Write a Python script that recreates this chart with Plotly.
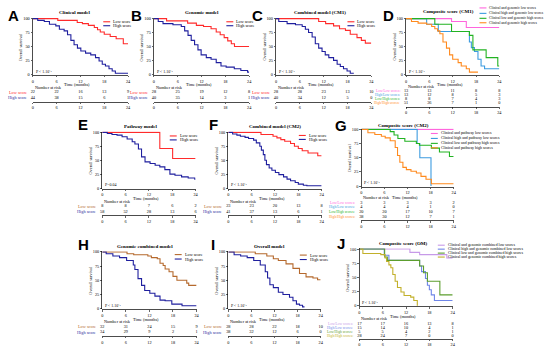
import plotly.graph_objects as go

W, H = 550, 351
SERIF = "Liberation Serif"
SANS = "Liberation Sans"

RED = "#ff2b2b"; NAVY = "#1f1f9e"; BROWN = "#b5692d"
PINK = "#ff66dd"; LBLUE = "#3c9be0"; GREEN = "#22b322"; ORANGE = "#ff8a1e"
LAV = "#c79ae8"; CBLUE = "#6f86e8"; OGREEN = "#5c9e2e"; MUSTARD = "#c2b02a"

time_ticks = [0, 6, 12, 18, 24]
surv_ticks = [0, 25, 50, 75, 100]

# ---------------- data ----------------
A_low_t = [0, 6.3, 11.2, 12.5, 14, 15.5, 16.3, 17, 18, 19.5, 21, 22.8, 24]
A_low_s = [100, 97, 93, 91, 88, 84, 80, 76, 72, 68, 64, 55, 55]
A_high_t = [0, 1.25, 2.9, 4.2, 5.8, 6.7, 7.9, 8.75, 9.6, 10.4, 11.25, 12.1, 13.3, 14.6, 15.8, 16.7, 17.5, 18.3, 19.2, 20, 20.8, 24]
A_high_s = [100, 97, 95, 90, 87, 81, 78, 71, 61, 53, 47, 42, 38, 35, 30, 24, 18, 15, 10, 6, 2, 2]
A_risk_low = [22, 22, 16, 13, 9]
A_risk_high = [44, 38, 15, 6, 1]

B_low_t = [0, 3.2, 8.5, 10.7, 12.5, 14.4, 15.7, 16.7, 17.7, 18.6, 19.5, 20.3, 24]
B_low_s = [100, 96, 92, 88, 86, 82, 76, 71, 66, 60, 55, 50, 50]
B_high_t = [0, 1.1, 2.3, 4.8, 6.9, 7.75, 8.6, 9.4, 10.25, 11.1, 11.9, 13.2, 14.4, 15.7, 16.9, 18.2, 20.25, 21.9, 23.6, 24]
B_high_s = [100, 95, 91, 89, 86, 78, 70, 61, 53, 44, 35, 30, 27, 21, 15, 13, 10, 7, 4, 4]
B_risk_low = [28, 25, 19, 12, 8]
B_risk_high = [40, 35, 14, 3, 1]

C_low_t = [0, 10.75, 12.5, 14.5, 16, 17.5, 18.7, 20.4, 21.5, 22.5, 24]
C_low_s = [100, 95, 91, 87, 82, 79, 72, 66, 61, 56, 56]
C_high_t = [0, 0.7, 2.8, 4.9, 6.6, 7.4, 8.2, 9.1, 9.9, 10.75, 11.6, 12.4, 13.3, 14.5, 15.4, 16.2, 17, 17.9, 18.7, 19.6]
C_high_s = [100, 95, 91, 89, 86, 81, 75, 67, 55, 47, 41, 35, 30, 25, 18, 14, 10, 6, 2, 2]
C_risk_low = [28, 28, 23, 13, 10]
C_risk_high = [40, 34, 12, 5, 0]

D_ll_t = [0, 11.7, 15.5, 24]
D_ll_s = [100, 95, 84, 84]
D_hl_t = [0, 5.3, 8.3, 16.3, 16.8, 17.6, 18.5, 19.3, 20.2, 24]
D_hl_s = [100, 90, 77, 58, 48, 41, 27, 15, 10, 10]
D_lh_t = [0, 7.4, 11.7, 16.3, 17.2, 20.6, 23.6, 24]
D_lh_s = [100, 90, 77, 70, 44, 30, 15, 15]
D_hh_t = [0, 1.4, 3.1, 5.3, 6.6, 7.4, 8.1, 8.7, 9.5, 10.4, 11.2, 12, 13.4, 14.2, 15.5, 16.3, 18.5]
D_hh_s = [100, 95, 92, 90, 86, 82, 78, 73, 58, 47, 35, 27, 21, 15, 10, 4, 4]
D_risk = [[13, 13, 11, 8, 8], [13, 12, 8, 5, 3], [8, 8, 7, 4, 3], [51, 36, 7, 1, 0]]

E_low_t = [0, 14.8, 18.1, 24]
E_low_s = [100, 71, 53, 53]
E_high_t = [0, 1.3, 2.5, 3.8, 5.1, 6.4, 7.7, 8.4, 9.3, 10.1, 11, 12.3, 13.6, 14.8, 16.1, 17.4, 18.7, 20.4, 22.1, 23.8, 24]
E_high_s = [100, 98, 96, 95, 92, 88, 83, 79, 70, 56, 47, 44, 41, 38, 33, 25, 23, 20, 18, 16, 16]
E_risk_low = [8, 8, 7, 6, 2]
E_risk_high = [58, 52, 28, 13, 6]

F_low_t = [0, 8.4, 11.5, 12.5, 13.5, 14.5, 16, 17, 18, 19, 20.5, 23, 24]
F_low_s = [100, 96, 93, 90, 87, 84, 80, 75, 71, 67, 63, 58, 58]
F_high_t = [0, 1.1, 2.2, 3.1, 4.3, 5.2, 6.5, 7.2, 8.1, 8.5, 9, 9.4, 9.8, 10.5, 11.2, 12.1, 13, 14.2, 15.1, 16, 17.2, 18, 19.3, 20.2, 24]
F_high_s = [100, 97, 95, 93, 91, 89, 86, 81, 75, 68, 60, 50, 42, 36, 32, 28, 24, 20, 16, 13, 10, 7, 5, 4, 4]
F_risk_low = [23, 23, 20, 13, 8]
F_risk_high = [41, 37, 13, 6, 1]

G_ll_t = [0, 24]
G_ll_s = [100, 100]
G_hl_t = [0, 14.5, 15.2, 18.1]
G_hl_s = [100, 75, 50, 0]
G_lh_t = [0, 7.5, 8.5, 9.5, 11.3, 14.3, 15.1, 18.2, 20.3, 22.9, 24]
G_lh_s = [100, 96, 90, 84, 79, 75, 72, 67, 60, 52, 52]
G_hh_t = [0, 1.7, 3.5, 5.2, 6.2, 7.5, 8.8, 9.4, 10, 10.8, 11.7, 12.9, 14.3, 15.5, 16.8, 18.2, 24]
G_hh_s = [100, 94, 91, 88, 85, 80, 68, 54, 42, 33, 29, 26, 23, 17, 12, 4, 4]
G_risk = [[3, 3, 3, 3, 2], [4, 4, 4, 1, 0], [20, 20, 17, 10, 7], [38, 30, 12, 7, 1]]

H_low_t = [0, 6.3, 8, 11.6, 12.5, 14, 14.7, 15.5, 16, 17, 18, 19, 21.5, 22, 24]
H_low_s = [100, 97, 95, 93, 90, 88, 80, 76, 70, 65, 57, 50, 45, 41, 41]
H_high_t = [0, 1, 2.7, 4.4, 6.2, 7.9, 8.3, 9.1, 10, 10.8, 12.1, 13.4, 14.7, 16, 17.7, 20.3, 24]
H_high_s = [100, 97, 93, 90, 85, 77, 69, 53, 41, 32, 27, 22, 15, 14, 8, 5, 5]
H_risk_low = [32, 31, 24, 15, 9]
H_risk_high = [34, 29, 9, 2, 1]

I_low_t = [0, 7, 10, 11.7, 13, 15, 16.8, 18.5, 20.2, 22, 23.2, 24]
I_low_s = [100, 97, 93, 88, 85, 79, 71, 62, 56, 54, 51, 51]
I_high_t = [0, 1.5, 3.2, 4.9, 6.6, 8.3, 9.6, 10.2, 10.8, 11.7, 13, 14.2, 15.9, 16.8, 17.7, 18.5, 19.3, 19.8]
I_high_s = [100, 95, 93, 90, 85, 77, 65, 54, 42, 37, 29, 25, 20, 14, 8, 6, 3, 3]
I_risk_low = [28, 28, 22, 18, 10]
I_risk_high = [38, 32, 12, 6, 0]

J_ll_t = [0, 13, 15.5, 22.5, 24]
J_ll_s = [100, 94, 90, 84, 84]
J_hl_t = [0, 6.4, 7.6, 15.5, 16, 17, 17.5, 18, 18.5, 19.3, 24]
J_hl_s = [100, 89, 80, 70, 60, 48, 36, 28, 19, 9, 9]
J_lh_t = [0, 6.5, 7.2, 15.5, 16.5, 17.5, 20.7, 24]
J_lh_s = [100, 86, 80, 70, 58, 43, 19, 19]
J_hh_t = [0, 0.9, 5.5, 6.6, 7, 7.6, 8.1, 8.6, 9.2, 9.8, 10.7, 11.5, 13.2, 14, 14.9]
J_hh_s = [100, 92, 90, 84, 78, 72, 67, 55, 43, 32, 24, 18, 15, 9, 0]
J_risk = [[17, 17, 16, 13, 8], [15, 14, 10, 4, 1], [5, 5, 4, 2, 1], [28, 24, 7, 0, 0]]

two_labels = ["Low score", "High score"]
comp_labels = ["Low/Low scores:", "High/Low scores:", "Low/High scores:", "High/High scores:"]
PV = "P < 1.10⁻⁴"

panels = [
    dict(letter="A", lpos=(13, 14), title="Clinical model", tpos=(75, 11), box=(32, 128, 16, 74),
         curves=[(A_low_t, A_low_s, RED), (A_high_t, A_high_s, NAVY)],
         legend=(two_labels, [RED, NAVY], 103, [20, 24], 4.2),
         rows=(two_labels, [RED, NAVY], [A_risk_low, A_risk_high], 4.3),
         time_y=83.8, nar_y=86.6, rows_y=[91.3, 97], axis_y=101, pval=PV),
    dict(letter="B", lpos=(136, 14), title="Genomic model", tpos=(202, 11), box=(154, 250, 16, 74),
         curves=[(B_low_t, B_low_s, RED), (B_high_t, B_high_s, NAVY)],
         legend=(two_labels, [RED, NAVY], 227, [20, 24], 4.2),
         rows=(two_labels, [RED, NAVY], [B_risk_low, B_risk_high], 4.3),
         time_y=83.8, nar_y=86.6, rows_y=[91.3, 97], axis_y=101, pval=PV),
    dict(letter="C", lpos=(258, 14), title="Combined model (CM1)", tpos=(321, 11), box=(277, 373, 16, 74),
         curves=[(C_low_t, C_low_s, RED), (C_high_t, C_high_s, NAVY)],
         legend=(two_labels, [RED, NAVY], 349, [20, 24], 4.2),
         rows=(two_labels, [RED, NAVY], [C_risk_low, C_risk_high], 4.3),
         time_y=83.8, nar_y=86.6, rows_y=[91.3, 97], axis_y=101, pval=PV),
    dict(letter="D", lpos=(390, 14), title="Composite score (CM1)", tpos=(451, 10), box=(408, 502, 16, 74),
         curves=[(D_ll_t, D_ll_s, PINK), (D_hl_t, D_hl_s, LBLUE), (D_lh_t, D_lh_s, GREEN), (D_hh_t, D_hh_s, ORANGE)],
         legend=(["Clinical and genomic low scores", "Clinical high and genomic low scores",
                  "Clinical low and genomic high scores", "Clinical and genomic high scores"],
                 [PINK, LBLUE, GREEN, ORANGE], 482, [6, 11.5, 16.5, 21], 3.6),
         rows=(comp_labels, [PINK, LBLUE, GREEN, ORANGE], D_risk, 3.5),
         time_y=83.8, nar_y=85.8, rows_y=[89.8, 93.8, 97.8, 101.8], axis_y=106, pval=PV),
    dict(letter="E", lpos=(83, 124), title="Pathway model", tpos=(141, 126), box=(102, 196, 131, 189),
         curves=[(E_low_t, E_low_s, RED), (E_high_t, E_high_s, NAVY)],
         legend=(two_labels, [RED, NAVY], 170, [135.5, 139.5], 4.2),
         rows=(two_labels, [BROWN, NAVY], [E_risk_low, E_risk_high], 4.3),
         time_y=198.7, nar_y=201.7, rows_y=[206.5, 212], axis_y=216, pval="P=0.04"),
    dict(letter="F", lpos=(214, 124), title="Combined model (CM2)", tpos=(276, 126), box=(229, 323, 131, 189),
         curves=[(F_low_t, F_low_s, RED), (F_high_t, F_high_s, NAVY)],
         legend=(two_labels, [RED, NAVY], 300, [135, 139], 4.2),
         rows=(two_labels, [BROWN, NAVY], [F_risk_low, F_risk_high], 4.3),
         time_y=198.7, nar_y=201.7, rows_y=[206.5, 212], axis_y=216, pval=PV),
    dict(letter="G", lpos=(342, 125), title="Composite score (CM2)", tpos=(405, 125), box=(363, 456, 128, 187),
         curves=[(G_ll_t, G_ll_s, PINK), (G_hl_t, G_hl_s, LBLUE), (G_lh_t, G_lh_s, GREEN), (G_hh_t, G_hh_s, ORANGE)],
         legend=(["Clinical and pathway low scores", "Clinical high and pathway low scores",
                  "Clinical low and pathway high scores", "Clinical and pathway high scores"],
                 [PINK, LBLUE, GREEN, ORANGE], 433, [133, 138, 143, 147.5], 3.9),
         rows=(comp_labels, [PINK, LBLUE, GREEN, ORANGE], G_risk, 3.6),
         time_y=197.7, nar_y=197.7, rows_y=[203, 207.5, 212.3, 217], axis_y=221, pval=PV),
    dict(letter="H", lpos=(83, 245), title="Genomic combined model", tpos=(145, 247), box=(102, 197, 252, 311),
         curves=[(H_low_t, H_low_s, BROWN), (H_high_t, H_high_s, NAVY)],
         legend=(two_labels, [BROWN, NAVY], 175, [255.5, 260], 4.2),
         rows=(two_labels, [BROWN, NAVY], [H_risk_low, H_risk_high], 4.3),
         time_y=320.8, nar_y=323.6, rows_y=[328.3, 334], axis_y=338, pval=PV),
    dict(letter="I", lpos=(214, 245), title="Overall model", tpos=(270, 247), box=(229, 322, 252, 311),
         curves=[(I_low_t, I_low_s, BROWN), (I_high_t, I_high_s, NAVY)],
         legend=(two_labels, [BROWN, NAVY], 301, [256, 260.5], 4.2),
         rows=(two_labels, [BROWN, NAVY], [I_risk_low, I_risk_high], 4.3),
         time_y=320.8, nar_y=323.6, rows_y=[328.3, 334], axis_y=338, pval=PV),
    dict(letter="J", lpos=(342, 244), title="Composite score (OM)", tpos=(405, 244), box=(361, 455, 249, 308),
         curves=[(J_ll_t, J_ll_s, LAV), (J_hl_t, J_hl_s, CBLUE), (J_lh_t, J_lh_s, OGREEN), (J_hh_t, J_hh_s, MUSTARD)],
         legend=(["Clinical and genomic combined low scores", "Clinical high and genomic combined low scores",
                  "Clinical low and genomic combined high scores", "Clinical and genomic combined high scores"],
                 [LAV, CBLUE, OGREEN, MUSTARD], 440, [246, 250, 254, 258], 3.9),
         rows=(comp_labels, [LAV, CBLUE, OGREEN, MUSTARD], J_risk, 3.6),
         time_y=317.9, nar_y=320.3, rows_y=[325.3, 329.3, 333.3, 337.7], axis_y=341, pval=PV),
]

FS = 4.3
axis_common = dict(showline=True, linecolor="black", linewidth=0.7, ticks="outside", ticklen=1.5,
                   tickwidth=0.6, tickcolor="black", showgrid=False, zeroline=False,
                   tickfont=dict(family=SERIF, size=FS, color="black"), fixedrange=True)

fig = go.Figure()
layout = {}
annotations = []
shapes = []


def px(x):
    return x / W


def py(y):
    return 1 - y / H


def ann(x, y, text, size=FS, color="black", xanchor="center", family=SERIF, angle=0, yref="paper"):
    annotations.append(dict(x=x, y=y, xref="paper", yref=yref, text=text, showarrow=False,
                            xanchor=xanchor, yanchor="middle", textangle=angle,
                            font=dict(family=family, size=size, color=color)))


for i, p in enumerate(panels):
    m, t = 2 * i + 1, 2 * i + 2
    xm = "x" if m == 1 else f"x{m}"
    ym = "y" if m == 1 else f"y{m}"
    xt, yt = f"x{t}", f"y{t}"
    L, R, T, B = p["box"]
    layout["xaxis" if m == 1 else f"xaxis{m}"] = dict(axis_common, domain=[px(L), px(R)], anchor=ym,
                                                      range=[0, 24], tickvals=time_ticks)
    layout["yaxis" if m == 1 else f"yaxis{m}"] = dict(axis_common, domain=[py(B), py(T)], anchor=xm,
                                                      range=[-1.5, 101.5], tickvals=surv_ticks)
    rows_y = p["rows_y"]
    n = len(rows_y)
    dr = (rows_y[-1] - rows_y[0]) / (n - 1)
    top_px = p["nar_y"] + 1
    layout[f"xaxis{t}"] = dict(axis_common, domain=[px(L), px(R)], anchor=yt,
                               range=[0, 24], tickvals=time_ticks)
    layout[f"yaxis{t}"] = dict(domain=[py(p["axis_y"]), py(top_px)], anchor=xt, visible=False,
                               range=[(p["axis_y"] - rows_y[0]) / dr, (top_px - rows_y[0]) / dr],
                               fixedrange=True)

    for (tt, ss, c) in p["curves"]:
        fig.add_trace(go.Scatter(x=tt, y=ss, xaxis=xm, yaxis=ym, mode="lines",
                                 line=dict(color=c, width=1.1, shape="hv"),
                                 showlegend=False, hoverinfo="skip"))

    labels, lcolors, vals, lfs = p["rows"]
    for k, (lab, c, v) in enumerate(zip(labels, lcolors, vals)):
        fig.add_trace(go.Scatter(x=time_ticks, y=[k] * len(v), xaxis=xt, yaxis=yt, mode="text",
                                 text=[str(a) for a in v], textposition="middle center",
                                 textfont=dict(family=SERIF, size=FS, color="black"),
                                 cliponaxis=False, showlegend=False, hoverinfo="skip"))
        ann(px(L - 4), k, lab, size=lfs, color=c, xanchor="right", yref=yt)

    # texts
    lx, ly = p["lpos"]
    ann(px(lx), py(ly), f"<b>{p['letter']}</b>", size=15, family=SANS)
    tx, ty = p["tpos"]
    ann(px(tx), py(ty), f"<b>{p['title']}</b>", size=5)
    ann(px((L + R) / 2 - 3), py(p["time_y"]), "Time (months)")
    ann(px(L), py(p["nar_y"]), "Number at risk", xanchor="left")
    ann(px(L - 12), py((T + B) / 2), "Overall survival", angle=-90)
    ann(px(L + 1), py(B - 4), p["pval"], size=4, xanchor="left")

    # legend
    lg_labels, lg_colors, kx, kys, gfs = p["legend"]
    for lab, c, ky in zip(lg_labels, lg_colors, kys):
        shapes.append(dict(type="line", xref="paper", yref="paper", x0=px(kx), x1=px(kx + 7),
                           y0=py(ky), y1=py(ky), line=dict(color=c, width=1.1)))
        ann(px(kx + 8), py(ky), lab, size=gfs, xanchor="left")

fig.update_layout(**layout)
fig.update_layout(width=W, height=H, margin=dict(l=0, r=0, t=0, b=0),
                  paper_bgcolor="white", plot_bgcolor="white",
                  annotations=annotations, shapes=shapes, showlegend=False)
fig.write_html("out.html", config={"displayModeBar": False, "staticPlot": True},
               post_script="document.body.style.margin='0';document.body.style.padding='0';")
